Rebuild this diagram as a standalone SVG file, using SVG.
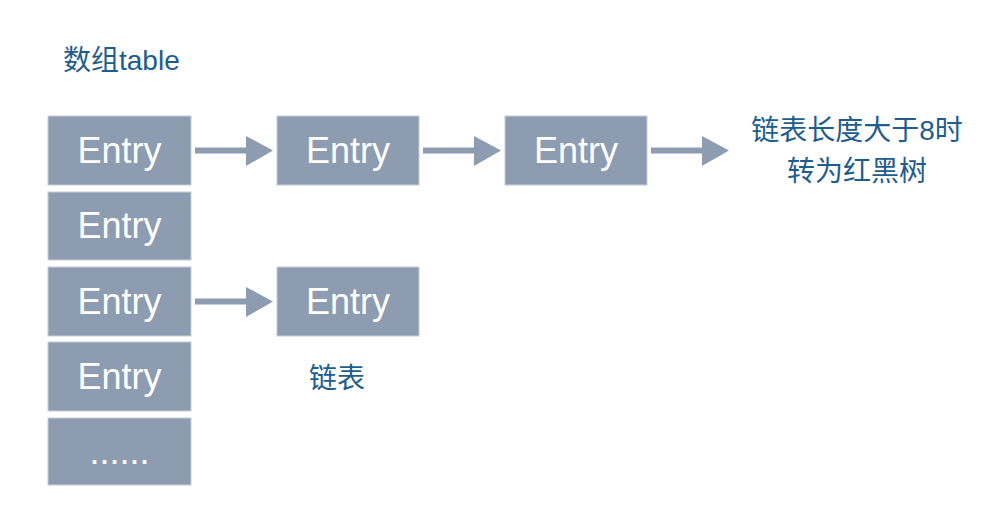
<svg xmlns="http://www.w3.org/2000/svg" width="1000" height="532" viewBox="0 0 1000 532">
<style>
.box{fill:#8d9cb1;stroke:#c5cdd8;stroke-width:1}
.et{font-family:"Liberation Sans",Arial,sans-serif;font-size:36px;fill:#ffffff;text-anchor:middle}
.lb{font-family:"Liberation Sans","Noto Sans CJK SC",sans-serif;font-size:28px;fill:#1e5d8c}
.ar{stroke:#8d9cb1;stroke-width:6;fill:none}
.ah{fill:#8d9cb1}
</style>
<rect width="1000" height="532" fill="#ffffff"/>
<text class="lb" x="63" y="70">数组table</text>
<g id="a1"><rect class="box" x="48" y="116" width="143" height="69"/><text class="et" x="119.5" y="163">Entry</text></g>
<g id="a2"><rect class="box" x="48" y="192" width="143" height="68"/><text class="et" x="119.5" y="238">Entry</text></g>
<g id="a3"><rect class="box" x="48" y="267" width="143" height="69"/><text class="et" x="119.5" y="314">Entry</text></g>
<g id="a4"><rect class="box" x="48" y="342" width="143" height="69"/><text class="et" x="119.5" y="389">Entry</text></g>
<g id="a5"><rect class="box" x="48" y="418" width="143" height="67"/><text class="et" x="119.5" y="464">......</text></g>
<g id="b1"><rect class="box" x="277" y="116" width="142" height="69"/><text class="et" x="348" y="163">Entry</text></g>
<g id="c1"><rect class="box" x="505" y="116" width="142" height="69"/><text class="et" x="576" y="163">Entry</text></g>
<g id="b3"><rect class="box" x="277" y="267" width="142" height="69"/><text class="et" x="348" y="314">Entry</text></g>
<g id="rb"><text class="lb" x="857" y="140" text-anchor="middle">链表长度大于8时</text><text class="lb" x="857" y="181" text-anchor="middle">转为红黑树</text></g>
<g id="ll"><text class="lb" x="309" y="388">链表</text></g>
<g id="connectors">
<line class="ar" x1="195" y1="150.5" x2="250" y2="150.5"/><polygon class="ah" points="246,136 273,150.5 246,166"/>
<line class="ar" x1="423" y1="150.5" x2="478" y2="150.5"/><polygon class="ah" points="474,136 501,150.5 474,166"/>
<line class="ar" x1="651" y1="150.5" x2="706" y2="150.5"/><polygon class="ah" points="702,136 729,150.5 702,166"/>
<line class="ar" x1="195" y1="301.5" x2="250" y2="301.5"/><polygon class="ah" points="246,287 273,301.5 246,317"/>
</g>
</svg>
